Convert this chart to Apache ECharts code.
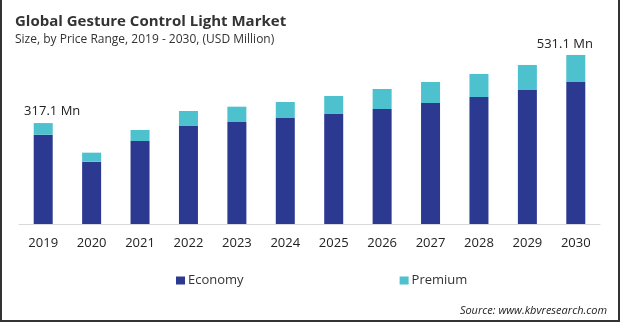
<!DOCTYPE html>
<html>
<head>
<meta charset="utf-8">
<script src="https://cdn.jsdelivr.net/npm/echarts@6/dist/echarts.min.js"></script>
<style>
  html, body { margin: 0; padding: 0; background: #fff; }
  #chart { width: 620px; height: 322px; }
</style>
</head>
<body>
<div id="chart"></div>
<script>
// Market size by price range, USD million
const years = ['2019', '2020', '2021', '2022', '2023', '2024', '2025', '2026', '2027', '2028', '2029', '2030'];
const economy = [280.6, 195.8, 260.8, 308.0, 320.5, 333.1, 345.7, 361.4, 380.2, 399.1, 421.1, 446.2];
const premium = [36.5, 28.3, 34.6, 47.1, 48.1, 50.3, 56.5, 62.8, 66.0, 72.3, 78.6, 84.9];
const totalLabels = { 0: '317.1 Mn', 11: '531.1 Mn' };

const FONT = 'Open Sans';
const chart = echarts.init(document.getElementById('chart'), null, { renderer: 'canvas' });

const premiumData = premium.map((v, i) => {
  const item = { value: v };
  if (totalLabels[i]) {
    item.label = {
      show: true,
      position: 'top',
      formatter: totalLabels[i],
      offset: i === 0 ? [9, 0] : [-11, 1],
      fontSize: 13,
      fontFamily: FONT,
      color: '#222'
    };
  }
  return item;
});

chart.setOption({
  animation: false,
  textStyle: { fontFamily: FONT },
  title: {
    text: 'Global Gesture Control Light Market',
    subtext: 'Size, by Price Range, 2019 - 2030, (USD Million)',
    left: 10,
    top: 9,
    itemGap: 5,
    textStyle: { fontSize: 15, fontWeight: 'bold', color: '#333', fontFamily: FONT },
    subtextStyle: { fontSize: 12, color: '#333', fontFamily: FONT }
  },
  legend: {
    data: ['Economy', 'Premium'],
    top: 269,
    left: 171,
    itemGap: 156,
    itemWidth: 9,
    itemHeight: 8,
    icon: 'rect',
    textStyle: { fontSize: 13, color: '#333', fontFamily: FONT, padding: [0, 0, 0, -2] }
  },
  grid: { left: 19, right: 20, top: 39.4, bottom: 98, containLabel: false },
  xAxis: {
    type: 'category',
    data: years,
    axisLine: { lineStyle: { color: '#d9d9d9', width: 1 } },
    axisTick: { show: false },
    axisLabel: { color: '#222', fontSize: 13, margin: 13, fontFamily: FONT }
  },
  yAxis: {
    type: 'value',
    min: 0,
    max: 580,
    show: false,
    splitLine: { show: false }
  },
  series: [
    {
      name: 'Economy',
      type: 'bar',
      stack: 'total',
      data: economy,
      barWidth: 19,
      itemStyle: { color: '#2b3990' }
    },
    {
      name: 'Premium',
      type: 'bar',
      stack: 'total',
      data: premiumData,
      barWidth: 19,
      itemStyle: { color: '#4dc1cd' }
    }
  ],
  graphic: [
    {
      type: 'text',
      right: 13,
      top: 305,
      style: {
        text: 'Source: www.kbvresearch.com',
        font: 'italic 11px ' + FONT,
        fill: '#222'
      }
    },
    { type: 'rect', left: 0, top: 0, shape: { width: 2, height: 322 }, style: { fill: '#333' } },
    { type: 'rect', right: 0, top: 0, shape: { width: 2, height: 322 }, style: { fill: '#333' } },
    { type: 'rect', left: 0, bottom: 0, shape: { width: 620, height: 2 }, style: { fill: '#333' } }
  ]
});
</script>
</body>
</html>
